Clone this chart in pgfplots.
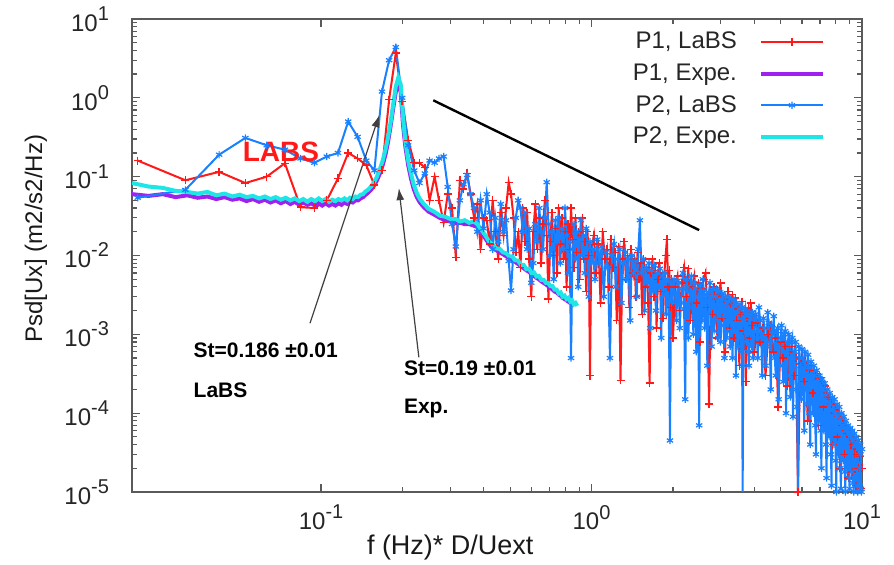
\documentclass[border=0pt]{standalone}
\usepackage{fontspec}
\setmainfont{Liberation Sans}
\usepackage{pgfplots}
\pgfplotsset{compat=1.18}
\usetikzlibrary{arrows.meta}

\definecolor{labsred}{RGB}{255,25,25}
\definecolor{expepurple}{RGB}{160,32,240}
\definecolor{labsblue}{RGB}{25,128,255}
\definecolor{expecyan}{RGB}{30,230,230}
\definecolor{framegray}{RGB}{90,90,90}

% gnuplot style decade labels: 10 with raised exponent
\newcommand{\dec}[1]{10\raisebox{0.85ex}{\fontsize{10}{10}\selectfont#1}}

\begin{document}
\begin{tikzpicture}
\useasboundingbox (-66pt,-36.5pt) rectangle (381pt,246pt);
\begin{axis}[
  at={(0,0)}, anchor=south west,
  scale only axis, width=365pt, height=236.5pt,
  xmode=log, ymode=log,
  xmin=0.02, xmax=10, ymin=1e-5, ymax=10,
  xtick={0.1,1,10}, xticklabels={\dec{-1},\dec{0},\dec{1}},
  ytick={1e-5,1e-4,1e-3,1e-2,1e-1,1,10},
  yticklabels={\dec{-5},\dec{-4},\dec{-3},\dec{-2},\dec{-1},\dec{0},\dec{1}},
  tick label style={font=\fontsize{12}{14}\selectfont, text=black!85},
  xticklabel style={yshift=-3pt},
  yticklabel style={xshift=-8pt},
  axis line style={framegray, line width=0.8pt},
  tick style={framegray, line width=0.6pt},
  major tick length=4pt, minor tick length=2.5pt,
  xlabel={f (Hz)* D/Uext}, ylabel={Psd[Ux] (m2/s2/Hz)},
  every axis x label/.style={at={(rel axis cs:0.436,0)}, anchor=center, yshift=-28pt,
    font=\fontsize{13.5}{15}\selectfont, text=black!90},
  every axis y label/.style={at={(rel axis cs:0,0.535)}, anchor=center, xshift=-48pt, rotate=90,
    font=\fontsize{12}{15}\selectfont, text=black!90},
  legend plot pos=right,
  legend cell align=right,
  legend style={draw=none, fill=none, at={(rel axis cs:0.958,0.99)}, anchor=north east,
    font=\fontsize{12}{14}\selectfont, row sep=2pt, column sep=9pt, text=black!85},
  legend image code/.code={\draw[mark repeat=2,mark phase=2,#1] plot coordinates {(0pt,0pt) (15.5pt,0pt) (31pt,0pt)};},
]

% P1, LaBS
\addplot[labsred, line width=1pt, mark=+, mark size=2pt, mark options={line width=0.7pt}] coordinates {
(0.021,0.16)(0.0315,0.09)(0.042,0.115)(0.0525,0.083)(0.063,0.10)(0.0735,0.148)(0.084,0.041)(0.0945,0.040)
(0.105,0.050)(0.1155,0.095)(0.126,0.20)(0.1365,0.17)(0.147,0.14)(0.1575,0.078)(0.168,0.12)(0.1785,0.95)
(0.189,3.7)(0.1995,0.9)
(0.21,0.29)(0.221,0.15)(0.231,0.15)(0.242,0.13)(0.252,0.05)(0.263,0.10)(0.273,0.05)(0.284,0.026)
(0.294,0.06)(0.305,0.04)(0.315,0.0095)(0.326,0.09)(0.336,0.07)(0.347,0.11)(0.357,0.06)(0.368,0.03)
(0.378,0.045)(0.389,0.012)(0.399,0.03)(0.410,0.028)(0.420,0.014)(0.431,0.05)(0.441,0.02)(0.452,0.009)
(0.462,0.035)(0.473,0.018)(0.483,0.04)(0.494,0.085)(0.504,0.06)(0.515,0.03)(0.525,0.011)(0.536,0.02)
(0.546,0.007)(0.557,0.04)(0.567,0.015)(0.578,0.035)(0.588,0.009)(0.599,0.003)
(0.609,0.02)(0.620,0.045)(0.630,0.012)(0.641,0.03)(0.651,0.008)(0.662,0.025)(0.672,0.05)(0.683,0.018)
(0.693,0.0028)(0.704,0.015)(0.714,0.035)(0.725,0.01)(0.735,0.022)(0.746,0.006)(0.756,0.04)(0.767,0.014)
(0.777,0.03)(0.788,0.009)(0.798,0.02)(0.809,0.004)(0.819,0.025)(0.830,0.012)(0.840,0.04)(0.851,0.016)
(0.861,0.007)(0.872,0.03)(0.882,0.011)(0.893,0.02)(0.903,0.005)(0.914,0.018)(0.924,0.03)(0.935,0.009)
(0.945,0.015)(0.956,0.0035)(0.966,0.02)(0.977,0.01)(0.987,0.0003)(0.998,0.012)
(1.02,0.018)(1.04,0.006)(1.06,0.014)(1.08,0.0025)(1.10,0.02)(1.12,0.009)(1.14,0.012)(1.16,0.004)
(1.18,0.016)(1.20,0.007)(1.22,0.011)(1.24,0.0015)(1.26,0.013)(1.28,0.00026)(1.30,0.009)(1.32,0.015)
(1.34,0.005)(1.36,0.01)(1.38,0.0022)(1.40,0.012)(1.42,0.006)(1.44,0.009)(1.46,0.003)(1.48,0.011)
(1.50,0.005)(1.52,0.008)(1.54,0.0018)(1.56,0.009)(1.58,0.004)(1.60,0.007)(1.62,0.0025)(1.64,0.00024)
(1.66,0.006)(1.68,0.009)(1.70,0.003)(1.72,0.0065)(1.74,0.0012)(1.76,0.005)(1.78,0.008)(1.80,0.0035)
(1.82,0.0055)(1.84,0.0016)(1.86,0.006)(1.88,0.01)(1.90,0.016)(1.92,0.004)(1.94,0.0065)(1.96,0.0022)
(1.98,0.005)(2.00,0.0009)
(2.04,0.004)(2.08,0.0055)(2.12,0.002)(2.16,0.0045)(2.20,0.007)(2.24,0.003)(2.28,0.0068)(2.32,0.0015)
(2.36,0.004)(2.40,0.0055)(2.44,0.0025)(2.48,0.0045)(2.52,0.0008)(2.56,0.0038)(2.60,0.005)(2.64,0.006)
(2.68,0.0022)(2.72,0.00013)(2.76,0.0035)(2.80,0.0018)(2.84,0.004)(2.88,0.0028)(2.92,0.0009)(2.96,0.0032)
(3.00,0.0045)(3.04,0.0016)(3.08,0.0028)(3.12,0.0006)(3.16,0.0025)(3.20,0.0035)(3.24,0.0012)(3.28,0.0024)
(3.32,0.0032)(3.36,0.0009)(3.40,0.0029)(3.44,0.0015)(3.48,0.0021)(3.52,0.0004)(3.56,0.0018)(3.60,0.0026)
(3.64,0.0011)(3.68,0.0019)(3.72,0.00025)(3.76,0.0016)(3.80,0.0022)(3.84,0.0009)(3.88,0.0025)(3.92,0.0013)
(3.96,0.0017)(4.00,0.0006)
(4.1,0.0014)(4.2,0.0008)(4.3,0.0012)(4.4,0.0003)(4.5,0.001)(4.6,0.0013)(4.7,0.0006)(4.8,0.0009)
(4.9,0.00012)(5.0,0.0008)(5.1,0.0005)(5.2,0.0007)(5.3,0.00022)(5.4,0.0006)(5.5,0.0007)(5.6,0.0003)
(5.7,0.0005)(5.8,0.00001)(5.9,0.00042)(6.0,0.0005)(6.1,0.00025)(6.2,0.0004)(6.3,0.00008)(6.4,0.00035)
(6.5,0.0004)(6.6,0.00018)(6.7,0.0003)(6.8,0.00032)(6.9,0.00007)(7.0,0.00028)(7.1,0.00025)(7.2,0.00012)
(7.3,0.00022)(7.4,0.00018)(7.5,0.00016)(7.6,0.00015)(7.7,0.00013)(7.8,0.00004)(7.9,0.0001)(8.0,0.00011)
(8.1,0.00005)(8.2,0.00009)(8.3,0.00002)(8.4,0.00007)(8.5,0.00008)(8.6,0.00003)(8.7,0.00006)(8.8,0.000055)
(8.9,0.000015)(9.0,0.00005)(9.1,0.00004)(9.2,0.000018)(9.3,0.000045)(9.4,0.00003)(9.5,0.000012)(9.6,0.000035)
(9.7,0.00002)(9.8,0.000028)(9.9,0.000011)(10.0,0.00002)
};
\addlegendentry{P1, LaBS}

% P1, Expe.
\addplot[expepurple, line width=2pt] coordinates {
(0.020,0.060)(0.023,0.057)(0.026,0.060)(0.029,0.055)(0.032,0.058)(0.035,0.054)(0.038,0.056)(0.041,0.052)
(0.044,0.055)(0.047,0.051)(0.050,0.053)(0.053,0.049)(0.056,0.052)(0.059,0.048)(0.062,0.051)(0.065,0.047)
(0.068,0.050)(0.071,0.046)(0.074,0.049)(0.077,0.045)(0.080,0.048)(0.083,0.044)(0.086,0.047)(0.089,0.044)
(0.092,0.046)(0.095,0.043)(0.098,0.046)(0.101,0.043)(0.104,0.046)(0.107,0.043)(0.110,0.045)(0.113,0.043)
(0.116,0.046)(0.119,0.044)(0.122,0.047)(0.125,0.045)(0.128,0.048)(0.131,0.047)(0.134,0.050)(0.137,0.050)
(0.140,0.053)(0.143,0.055)(0.146,0.059)(0.149,0.062)(0.153,0.068)(0.157,0.077)(0.161,0.09)(0.165,0.11)
(0.169,0.14)(0.173,0.19)(0.177,0.28)(0.181,0.45)(0.185,0.75)(0.189,1.2)(0.193,1.5)(0.197,1.2)
(0.201,0.45)(0.205,0.24)(0.210,0.14)(0.215,0.095)(0.220,0.07)(0.226,0.055)(0.232,0.047)(0.240,0.041)
(0.250,0.036)(0.262,0.033)(0.275,0.030)(0.288,0.028)(0.301,0.027)(0.314,0.026)(0.327,0.026)(0.340,0.025)
(0.353,0.025)(0.366,0.024)(0.379,0.023)(0.392,0.0195)(0.405,0.0165)(0.418,0.014)(0.431,0.0125)(0.444,0.0117)
(0.457,0.011)(0.470,0.0104)(0.483,0.0098)(0.496,0.0093)(0.509,0.0088)(0.522,0.0083)(0.535,0.0078)(0.548,0.0073)
(0.561,0.0069)(0.574,0.0065)(0.587,0.0062)(0.600,0.0058)(0.613,0.0055)(0.626,0.0052)(0.639,0.0050)(0.652,0.0047)
(0.665,0.0045)(0.678,0.0043)(0.691,0.0041)(0.704,0.0039)(0.717,0.0037)(0.730,0.0035)(0.743,0.0034)(0.756,0.0032)
(0.769,0.0031)(0.782,0.0029)(0.795,0.0028)(0.808,0.0027)(0.821,0.0026)(0.834,0.0025)(0.847,0.0024)(0.860,0.0023)
};
\addlegendentry{P1, Expe.}

% P2, LaBS
\addplot[labsblue, line width=1pt, mark=asterisk, mark size=1.8pt, mark options={line width=0.6pt}] coordinates {
(0.021,0.054)(0.0315,0.068)(0.042,0.19)(0.0525,0.31)(0.063,0.25)(0.0735,0.22)(0.084,0.17)(0.0945,0.15)
(0.105,0.18)(0.1155,0.2)(0.126,0.50)(0.1365,0.32)(0.147,0.16)(0.1575,0.12)(0.168,1.2)(0.1785,3.0)
(0.189,4.4)(0.1995,1.0)
(0.21,0.25)(0.221,0.12)(0.231,0.083)(0.242,0.11)(0.252,0.16)(0.263,0.15)(0.273,0.17)(0.284,0.18)
(0.294,0.074)(0.305,0.025)(0.315,0.013)(0.326,0.05)(0.336,0.08)(0.347,0.105)(0.357,0.06)(0.368,0.04)
(0.378,0.02)(0.389,0.05)(0.399,0.022)(0.410,0.06)(0.420,0.035)(0.431,0.012)(0.441,0.03)(0.452,0.015)
(0.462,0.045)(0.473,0.02)(0.483,0.028)(0.494,0.0085)(0.504,0.0036)(0.515,0.012)(0.525,0.03)(0.536,0.05)
(0.546,0.04)(0.557,0.02)(0.567,0.035)(0.578,0.012)(0.588,0.022)(0.599,0.0045)
(0.609,0.008)(0.620,0.025)(0.630,0.015)(0.641,0.04)(0.651,0.02)(0.662,0.012)(0.672,0.03)(0.683,0.085)
(0.693,0.025)(0.704,0.01)(0.714,0.02)(0.725,0.005)(0.735,0.028)(0.746,0.015)(0.756,0.03)(0.767,0.008)
(0.777,0.022)(0.788,0.012)(0.798,0.04)(0.809,0.018)(0.819,0.006)(0.830,0.015)(0.840,0.0005)(0.851,0.012)
(0.861,0.025)(0.872,0.009)(0.882,0.02)(0.893,0.004)(0.903,0.016)(0.914,0.028)(0.924,0.01)(0.935,0.018)
(0.945,0.006)(0.956,0.022)(0.966,0.012)(0.977,0.003)(0.987,0.015)(0.998,0.008)
(1.01,0.012)(1.03,0.005)(1.05,0.016)(1.07,0.008)(1.09,0.013)(1.11,0.003)(1.13,0.011)(1.15,0.007)
(1.17,0.0005)(1.19,0.01)(1.21,0.014)(1.23,0.004)(1.25,0.009)(1.27,0.012)(1.29,0.0025)(1.31,0.008)
(1.33,0.011)(1.35,0.005)(1.37,0.009)(1.39,0.0015)(1.41,0.01)(1.43,0.006)(1.45,0.0085)(1.47,0.003)
(1.49,0.012)(1.51,0.028)(1.53,0.006)(1.55,0.009)(1.57,0.002)(1.59,0.007)(1.61,0.0045)(1.63,0.008)
(1.65,0.0012)(1.67,0.0065)(1.69,0.0035)(1.71,0.0075)(1.73,0.002)(1.75,0.006)(1.77,0.004)(1.79,0.0068)
(1.81,0.0009)(1.83,0.0055)(1.85,0.0032)(1.87,0.006)(1.89,0.0018)(1.91,0.005)(1.93,0.0028)(1.95,0.000045)
(1.97,0.0045)(1.99,0.0026)
(2.02,0.005)(2.04,0.0032)(2.06,0.0015)(2.08,0.0048)(2.10,0.0045)(2.12,0.0012)(2.14,0.0025)(2.16,0.0038)
(2.18,0.006)(2.20,0.0021)(2.22,0.00015)(2.24,0.005)(2.26,0.004)(2.28,0.0009)(2.30,0.0022)(2.32,0.0035)
(2.34,0.0055)(2.36,0.0027)(2.38,0.001)(2.40,0.0045)(2.42,0.0038)(2.44,0.0006)(2.46,0.0018)(2.48,0.003)
(2.50,0.00007)(2.52,0.0042)(2.54,0.0035)(2.56,0.0015)(2.58,0.005)(2.60,0.0036)(2.62,0.0012)(2.64,0.0024)
(2.66,0.0032)(2.68,0.0004)(2.70,0.0019)(2.72,0.0034)(2.74,0.0045)(2.76,0.0022)(2.78,0.0007)(2.80,0.0037)
(2.82,0.003)(2.84,0.0011)(2.86,0.0015)(2.88,0.003)(2.90,0.0038)(2.92,0.002)(2.94,0.0009)(2.96,0.0035)
(2.98,0.0027)(3.00,0.0008)(3.02,0.0013)(3.04,0.0028)(3.06,0.0033)(3.08,0.0017)(3.10,0.0005)(3.12,0.003)
(3.14,0.0024)(3.16,0.0009)(3.18,0.0011)(3.20,0.0026)(3.22,0.003)(3.24,0.0016)(3.26,0.0007)(3.28,0.0028)
(3.30,0.0021)(3.32,0.0005)(3.34,0.0012)(3.36,0.0023)(3.38,0.0027)(3.40,0.0014)(3.42,0.0003)(3.44,0.0025)
(3.46,0.0019)(3.48,0.0007)(3.50,0.0009)(3.52,0.0021)(3.54,0.0024)(3.56,0.0013)(3.58,0.0006)(3.60,0.0022)
(3.62,0.000009)(3.64,0.0004)(3.66,0.0016)(3.68,0.0019)(3.70,0.0021)(3.72,0.0011)(3.74,0.0008)(3.76,0.002)
(3.78,0.0018)(3.80,0.0006)(3.82,0.0004)(3.84,0.0018)(3.86,0.0016)(3.88,0.001)(3.90,0.0007)(3.92,0.0019)
(3.94,0.0019)(3.96,0.0005)(3.98,0.0009)(4.00,0.0016)
(4.04,0.0018)(4.08,0.0011)(4.12,0.0005)(4.16,0.0022)(4.20,0.0015)(4.24,0.0009)(4.28,0.0003)(4.32,0.0016)
(4.36,0.0012)(4.40,0.0004)(4.44,0.0007)(4.48,0.0019)(4.52,0.0014)(4.56,0.0008)(4.60,0.0002)(4.64,0.0013)
(4.68,0.001)(4.72,0.0017)(4.76,0.0005)(4.80,0.0003)(4.84,0.0011)(4.88,0.0012)(4.92,0.00015)(4.96,0.0007)
(5.00,0.0009)(5.04,0.0013)(5.08,0.0004)(5.12,0.00025)(5.16,0.001)(5.20,0.0011)(5.24,0.0001)(5.28,0.0006)
(5.32,0.0008)(5.36,0.0010)(5.40,0.0003)(5.44,0.00016)(5.48,0.0008)(5.52,0.0009)(5.56,0.00009)(5.60,0.0005)
(5.64,0.0006)(5.68,0.0008)(5.72,0.0002)(5.76,0.00012)(5.80,0.000009)(5.84,0.0007)(5.88,0.0005)(5.92,0.0004)
(5.96,0.00015)(6.00,0.00065)(6.04,0.0005)(6.08,0.00022)(6.12,0.00006)(6.16,0.0006)(6.20,0.0004)(6.24,0.0003)
(6.28,0.00013)(6.32,0.00055)(6.36,0.00038)(6.40,0.0001)(6.44,0.00004)(6.48,0.00045)(6.52,0.0003)(6.56,0.00025)
(6.60,0.0001)(6.64,0.0004)(6.68,0.0003)(6.72,0.00007)(6.76,0.00003)(6.80,0.00035)(6.84,0.00025)(6.88,0.00018)
(6.92,0.00008)(6.96,0.0003)(7.00,0.00022)(7.04,0.00006)(7.08,0.00002)(7.12,0.00027)(7.16,0.0002)(7.20,0.00014)
(7.24,0.00006)(7.28,0.00024)(7.32,0.00017)(7.36,0.00004)(7.40,0.000015)(7.44,0.0002)(7.48,0.00014)(7.52,0.0001)
(7.56,0.00005)(7.60,0.00018)(7.64,0.00013)(7.68,0.00003)(7.72,0.000012)(7.76,0.00016)(7.80,0.00011)(7.84,0.00008)
(7.88,0.00004)(7.92,0.00015)(7.96,0.0001)(8.00,0.000025)(8.04,0.00001)(8.08,0.00013)(8.12,0.00009)(8.16,0.00006)
(8.20,0.00003)(8.24,0.00012)(8.28,0.00008)(8.32,0.00002)(8.36,0.000011)(8.40,0.0001)(8.44,0.00007)(8.48,0.00005)
(8.52,0.000025)(8.56,0.00009)(8.60,0.000065)(8.64,0.000018)(8.68,0.00001)(8.72,0.00008)(8.76,0.00006)(8.80,0.00004)
(8.84,0.00002)(8.88,0.00007)(8.92,0.000055)(8.96,0.000015)(9.00,0.000011)(9.04,0.000065)(9.08,0.00005)(9.12,0.00003)
(9.16,0.000018)(9.20,0.00006)(9.24,0.000045)(9.28,0.000013)(9.32,0.00001)(9.36,0.000055)(9.40,0.00004)(9.44,0.000025)
(9.48,0.000015)(9.52,0.00005)(9.56,0.000038)(9.60,0.000012)(9.64,0.00001)(9.68,0.000045)(9.72,0.000035)(9.76,0.00002)
(9.80,0.000012)(9.84,0.00004)(9.88,0.00003)(9.92,0.000011)(9.96,0.00001)(10.0,0.000035)
};
\addlegendentry{P2, LaBS}

% P2, Expe.
\addplot[expecyan, line width=2pt] coordinates {
(0.020,0.083)(0.023,0.075)(0.026,0.072)(0.029,0.066)(0.032,0.064)(0.035,0.061)(0.038,0.064)(0.041,0.058)
(0.044,0.061)(0.047,0.056)(0.050,0.059)(0.053,0.055)(0.056,0.057)(0.059,0.053)(0.062,0.056)(0.065,0.052)
(0.068,0.055)(0.071,0.051)(0.074,0.054)(0.077,0.050)(0.080,0.053)(0.083,0.049)(0.086,0.052)(0.089,0.048)
(0.092,0.052)(0.095,0.049)(0.098,0.053)(0.101,0.049)(0.104,0.052)(0.107,0.048)(0.110,0.051)(0.113,0.049)
(0.116,0.052)(0.119,0.050)(0.122,0.053)(0.125,0.050)(0.128,0.054)(0.131,0.052)(0.134,0.056)(0.137,0.055)
(0.140,0.059)(0.143,0.060)(0.146,0.065)(0.149,0.068)(0.153,0.075)(0.157,0.085)(0.161,0.10)(0.165,0.125)
(0.169,0.16)(0.173,0.22)(0.177,0.32)(0.181,0.5)(0.185,0.85)(0.189,1.4)(0.193,1.8)(0.197,1.5)
(0.201,0.55)(0.205,0.28)(0.210,0.16)(0.215,0.11)(0.220,0.08)(0.226,0.062)(0.232,0.052)(0.240,0.045)
(0.250,0.039)(0.262,0.036)(0.275,0.032)(0.288,0.031)(0.301,0.029)(0.314,0.029)(0.327,0.027)(0.340,0.028)
(0.353,0.026)(0.366,0.027)(0.379,0.025)(0.392,0.021)(0.405,0.018)(0.418,0.015)(0.431,0.0138)(0.444,0.0123)
(0.457,0.0122)(0.470,0.0110)(0.483,0.0107)(0.496,0.0098)(0.509,0.0097)(0.522,0.0087)(0.535,0.0086)(0.548,0.0076)
(0.561,0.0076)(0.574,0.0067)(0.587,0.0068)(0.600,0.0060)(0.613,0.0061)(0.626,0.0054)(0.639,0.0055)(0.652,0.0049)
(0.665,0.0049)(0.678,0.0045)(0.691,0.0045)(0.704,0.0041)(0.717,0.0041)(0.730,0.0037)(0.743,0.0037)(0.756,0.0033)
(0.769,0.0034)(0.782,0.0030)(0.795,0.0031)(0.808,0.0028)(0.821,0.0029)(0.834,0.0026)(0.847,0.0027)(0.860,0.0024)
(0.873,0.0025)(0.886,0.0023)
};
\addlegendentry{P2, Expe.}

% -5/3 slope guide
\addplot[black, line width=1.2pt, forget plot] coordinates {(0.26,0.93) (2.5,0.021)};

% Strouhal arrows and notes
\draw[black!75, line width=0.6pt, -{Latex[length=6pt,width=4pt]}] (axis cs:0.091,1.38e-3) -- (axis cs:0.164,0.60);
\draw[black!75, line width=0.6pt, -{Latex[length=6pt,width=4pt]}] (axis cs:0.230,5.1e-4) -- (axis cs:0.194,0.0716);
\node[anchor=west, inner sep=0pt, font=\bfseries\fontsize{10.5}{12}\selectfont] at (axis cs:0.0337,6.3e-4) {St=0.186 ±0.01};
\node[anchor=west, inner sep=0pt, font=\bfseries\fontsize{10.5}{12}\selectfont] at (axis cs:0.0337,1.95e-4) {LaBS};
\node[anchor=west, inner sep=0pt, font=\bfseries\fontsize{10.5}{12}\selectfont] at (axis cs:0.202,3.7e-4) {St=0.19 ±0.01};
\node[anchor=west, inner sep=0pt, font=\bfseries\fontsize{10.5}{12}\selectfont] at (axis cs:0.202,1.15e-4) {Exp.};
\node[anchor=center, inner sep=0pt, text=labsred, font=\bfseries\fontsize{14}{16}\selectfont] at (axis cs:0.0711,0.205) {LABS};

\end{axis}
\end{tikzpicture}
\end{document}
